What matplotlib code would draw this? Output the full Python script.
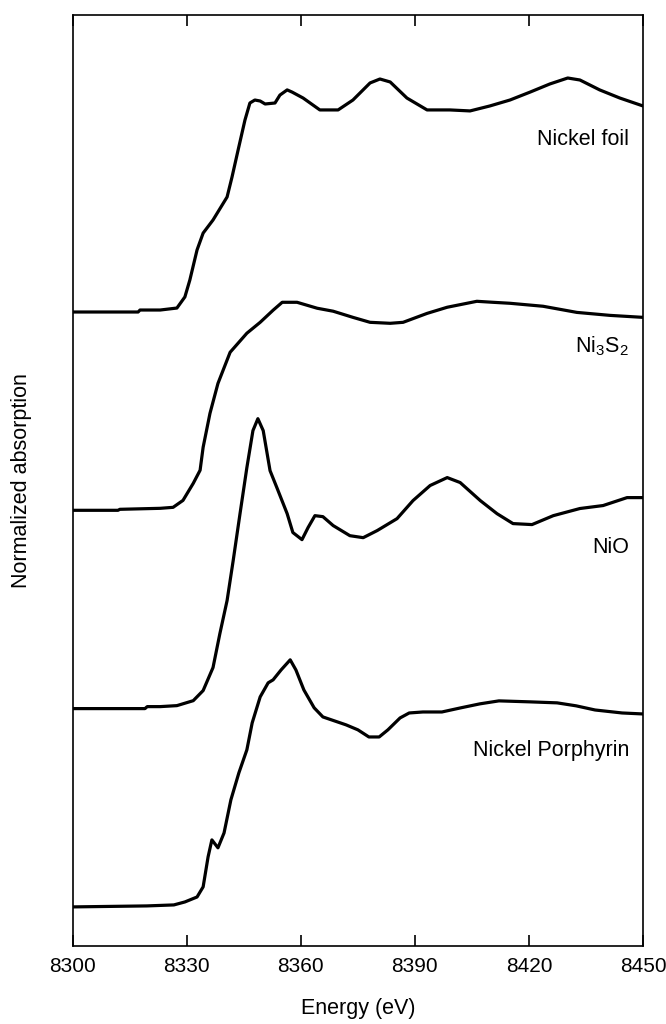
#!/usr/bin/env python3
"""
Ni K-edge XANES spectra of four reference compounds, stacked with a vertical offset.
Writes out.png (666 x 1024 px).
"""

import matplotlib
matplotlib.use("Agg")
import matplotlib.pyplot as plt

# ---------------------------------------------------------------------------
# Data
# ---------------------------------------------------------------------------

foil_energy = [8300, 8317.2, 8317.7, 8323.0, 8327.4, 8329.5, 8330.8, 8332.7, 8334.3, 8336.9,
               8340.6, 8341.9, 8343.5, 8345.3, 8346.6, 8347.9, 8349.3, 8350.6, 8353.2, 8354.5,
               8356.4, 8357.7, 8360.6, 8365.0, 8369.8, 8373.7, 8378.2, 8380.8, 8383.5, 8387.9,
               8393.2, 8399.2, 8404.5, 8409.7, 8415.0, 8420.3, 8425.5, 8430.2, 8433.4, 8438.6,
               8443.9, 8450]
foil_abs = [0.0, 0.0, 0.01, 0.01, 0.02, 0.076, 0.161, 0.313, 0.398, 0.464,
            0.580, 0.681, 0.817, 0.968, 1.054, 1.069, 1.064, 1.049, 1.054, 1.094,
            1.120, 1.109, 1.079, 1.019, 1.019, 1.069, 1.155, 1.175, 1.160, 1.079,
            1.019, 1.019, 1.014, 1.039, 1.069, 1.109, 1.150, 1.180, 1.170, 1.120,
            1.079, 1.039]

ni3s2_energy = [8300, 8311.9, 8312.4, 8323.0, 8326.4, 8329.0, 8331.7, 8333.5, 8334.3, 8336.1,
                8338.2, 8341.4, 8345.8, 8349.3, 8352.7, 8355.1, 8359.0, 8364.3, 8368.5, 8373.7,
                8378.2, 8383.5, 8386.9, 8393.2, 8398.5, 8406.3, 8410.5, 8415.0, 8423.7, 8432.6,
                8441.3, 8450]
ni3s2_abs = [0.0, 0.0, 0.005, 0.010, 0.015, 0.050, 0.136, 0.202, 0.318, 0.489,
             0.640, 0.797, 0.893, 0.948, 1.009, 1.049, 1.049, 1.019, 1.004, 0.973,
             0.948, 0.943, 0.948, 0.993, 1.024, 1.054, 1.049, 1.044, 1.029, 0.998,
             0.983, 0.973]

nio_energy = [8300, 8319.0, 8319.6, 8323.0, 8327.4, 8331.7, 8334.3, 8336.9, 8338.7, 8340.6,
              8342.2, 8344.0, 8345.8, 8347.4, 8348.7, 8350.1, 8351.9, 8353.7, 8356.4, 8357.9,
              8360.3, 8361.9, 8363.7, 8365.8, 8368.5, 8372.9, 8376.4, 8380.1, 8385.3, 8389.5,
              8394.0, 8398.5, 8401.9, 8407.2, 8411.6, 8415.8, 8420.8, 8426.4, 8433.4, 8439.5,
              8445.8, 8450]
nio_abs = [0.0, 0.0, 0.010, 0.010, 0.015, 0.040, 0.091, 0.207, 0.378, 0.545,
           0.746, 0.983, 1.215, 1.402, 1.462, 1.402, 1.200, 1.114, 0.983, 0.888,
           0.852, 0.913, 0.973, 0.968, 0.923, 0.872, 0.862, 0.898, 0.958, 1.049,
           1.125, 1.165, 1.140, 1.049, 0.983, 0.933, 0.928, 0.973, 1.009, 1.024,
           1.064, 1.064]

porph_energy = [8300, 8319.5, 8326.6, 8329.5, 8332.7, 8334.3, 8335.6, 8336.6, 8338.2, 8339.8,
                8341.6, 8343.7, 8345.8, 8347.2, 8349.3, 8351.4, 8352.7, 8354.8, 8357.2, 8358.7,
                8360.8, 8363.5, 8365.8, 8371.9, 8375.0, 8377.9, 8380.6, 8382.9, 8386.1, 8388.5,
                8392.1, 8397.1, 8402.1, 8407.1, 8412.1, 8420.3, 8427.4, 8432.4, 8437.4, 8444.5,
                8450]
porph_abs = [0.0, 0.005, 0.010, 0.025, 0.050, 0.101, 0.252, 0.338, 0.298, 0.373,
             0.540, 0.676, 0.792, 0.928, 1.059, 1.130, 1.145, 1.195, 1.246, 1.195,
             1.094, 1.004, 0.958, 0.918, 0.893, 0.857, 0.857, 0.893, 0.953, 0.978,
             0.983, 0.983, 1.004, 1.024, 1.039, 1.034, 1.029, 1.014, 0.993, 0.978,
             0.973]

sample_names = ["Nickel foil", "Ni$_3$S$_2$", "NiO", "Nickel Porphyrin"]
offsets = [3.0, 2.0, 1.0, 0.0]
label_y = [3.87, 2.83, 1.81, 0.79]
x_ticks = [8300, 8330, 8360, 8390, 8420, 8450]

# ---------------------------------------------------------------------------
# Plot
# ---------------------------------------------------------------------------

plt.rcParams["font.family"] = ["Liberation Sans", "DejaVu Sans"]
plt.rcParams["mathtext.fontset"] = "custom"
plt.rcParams["mathtext.rm"] = "Liberation Sans"
plt.rcParams["mathtext.default"] = "regular"

fig = plt.figure(figsize=(6.66, 10.24), dpi=100)
ax = fig.add_axes([0.1092, 0.0762, 0.8563, 0.9092])

curves = [(foil_energy, foil_abs), (ni3s2_energy, ni3s2_abs),
          (nio_energy, nio_abs), (porph_energy, porph_abs)]

for (energy, absorb), off, name, ly in zip(curves, offsets, sample_names, label_y):
    ax.plot(energy, [a + off for a in absorb], color="black", linewidth=2.3,
            solid_joinstyle="round", solid_capstyle="round")
    ax.text(8446.3, ly, name, ha="right", va="center", fontsize=15.5)

ax.set_xlim(8300, 8450)
ax.set_ylim(-0.197, 4.498)

ax.set_xticks(x_ticks)
ax.set_yticks(offsets)
ax.set_yticklabels([])
ax.tick_params(axis="x", direction="in", top=True, length=8, width=1.2,
               labelsize=15, pad=8)
ax.tick_params(axis="y", direction="in", length=8, width=1.2)

for spine in ax.spines.values():
    spine.set_linewidth(1.2)

ax.set_xlabel("Energy (eV)", fontsize=15.5)
ax.set_ylabel("Normalized absorption", fontsize=15.5)
ax.xaxis.set_label_coords(0.5, -0.056)
ax.yaxis.set_label_coords(-0.0714, 0.5)

fig.savefig("out.png", dpi=100)
plt.close(fig)
